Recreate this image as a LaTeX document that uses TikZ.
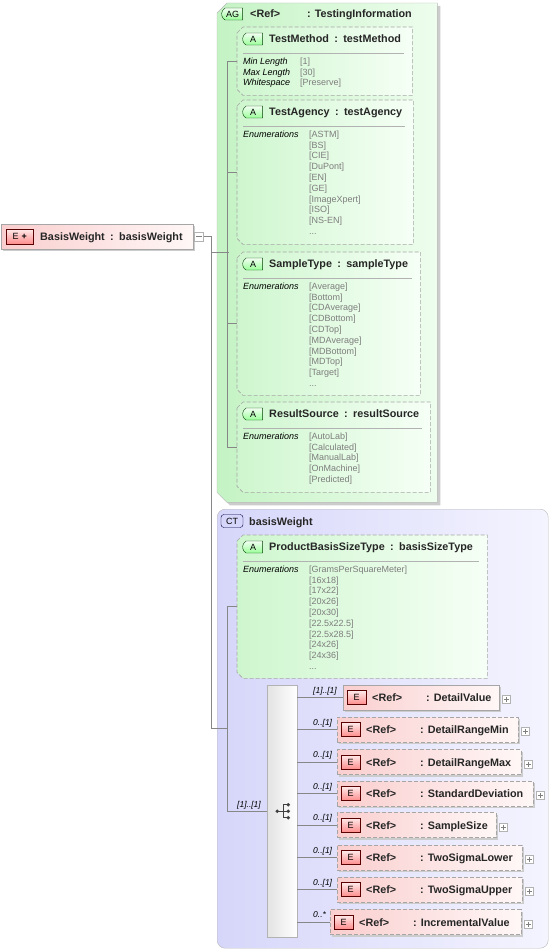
\documentclass[tikz,border=0pt]{standalone}
\usepackage{fontspec}
\setmainfont{Liberation Sans}
\usepackage{xcolor}
\usepackage{tikz}
\usetikzlibrary{positioning,shapes.misc,shadows,calc}

\definecolor{agleft}{RGB}{196,243,196}
\definecolor{agright}{RGB}{238,253,238}
\definecolor{atleft}{RGB}{206,246,206}
\definecolor{atright}{RGB}{246,255,246}
\definecolor{ctleft}{RGB}{214,214,250}
\definecolor{ctright}{RGB}{244,244,255}
\definecolor{elleft}{RGB}{250,206,206}
\definecolor{elright}{RGB}{255,247,247}
\definecolor{linegray}{RGB}{135,135,135}
\definecolor{valgray}{RGB}{125,125,125}

\begin{document}
\begin{tikzpicture}[x=1pt,y=-1pt,
  conn/.style={draw=linegray, line width=0.7pt},
  area/.style={rectangle, anchor=north west, inner sep=0pt},
  agshape/.style={draw=gray!55, left color=agleft, right color=agright,
    general shadow={fill=gray!40, shadow xshift=3pt, shadow yshift=-3pt}},
  atshape/.style={draw=gray!70, dash pattern=on 4pt off 2pt, line width=0.6pt,
    left color=atleft, right color=atright},
  ctbox/.style={rectangle, rounded corners=8pt, draw=gray!55, left color=ctleft,
    right color=ctright, anchor=north west, inner sep=0pt},
  elbox/.style={rectangle, draw=gray!70, left color=elleft, right color=elright,
    minimum height=25, anchor=west, inner sep=0pt,
    general shadow={fill=gray!40, shadow xshift=2pt, shadow yshift=-2pt}},
  optbox/.style={elbox, dash pattern=on 4pt off 2pt},
  seqbar/.style={rectangle, draw=gray!60, left color=gray!22, right color=white,
    anchor=north west, inner sep=0pt},
  eicon/.style={draw=red!35!black, top color=red!8, bottom color=red!45,
    minimum width=19, minimum height=14, inner sep=0pt, font=\fontsize{9}{9}\selectfont},
  aicon/.style={rounded rectangle, rounded rectangle right arc=none,
    rounded rectangle arc length=120, draw=green!25!black,
    top color=green!5, bottom color=green!40, minimum width=20, minimum height=12,
    inner sep=0pt, font=\fontsize{9}{9}\selectfont},
  cticon/.style={rectangle, rounded corners=3pt, draw=blue!25!black, fill=ctleft,
    minimum width=22, minimum height=13, inner sep=0pt, font=\fontsize{9}{9}\selectfont},
  nametext/.style={font=\fontsize{10.8}{12}\selectfont\bfseries, text=black!85,
    anchor=base west, inner sep=0pt},
  keyt/.style={font=\fontsize{9}{10.8}\selectfont\itshape, anchor=north west,
    align=left, inner sep=0pt},
  valt/.style={font=\fontsize{9}{10.8}\selectfont, text=valgray, anchor=north west,
    align=left, inner sep=0pt},
  mult/.style={font=\fontsize{8.5}{9}\selectfont\itshape, anchor=base west, inner sep=0pt},
  sepline/.style={draw=gray!60, line width=0.7pt},
  seqline/.style={draw=black!75, line width=0.9pt},
  plusbox/.style={draw=gray!60, fill=white, minimum size=8, inner sep=0pt,
    path picture={\draw[gray] ([xshift=1.5pt]path picture bounding box.west)
      -- ([xshift=-1.5pt]path picture bounding box.east)
      ([yshift=-1.5pt]path picture bounding box.north)
      -- ([yshift=1.5pt]path picture bounding box.south);}},
  minusbox/.style={draw=gray!60, fill=white, minimum size=9, inner sep=0pt,
    path picture={\draw[gray] ([xshift=1.5pt]path picture bounding box.west)
      -- ([xshift=-1.5pt]path picture bounding box.east);}}
]
\useasboundingbox (0,0) rectangle (551,952);

% Root element
\node[elbox, minimum width=192] (root) at (1,236.5) {};
\node[eicon, minimum width=27, minimum height=15, right=5pt of root.west] (rootE) {E\hspace{3pt}{\bfseries+}};
\node[nametext] (rootT) at (40,240.5) {BasisWeight\enskip:\enskip basisWeight};
\node[minusbox, right=1pt of root] (rootM) {};

% Attribute group (chamfered)
\node[area, minimum width=220, minimum height=499] (ag) at (217,3) {};
\path[agshape] ($(ag.north west)+(0,10)$) -- ($(ag.north west)+(10,0)$) -- (ag.north east)
  -- (ag.south east) -- ($(ag.south west)+(10,0)$) -- ($(ag.south west)+(0,-10)$) -- cycle;

% Complex type
\node[ctbox, minimum width=331, minimum height=439] (ct) at (217,509) {};

% Attribute boxes (chamfered, dashed)
\node[area, minimum width=175, minimum height=68] (tm) at (237,27) {};
\node[area, minimum width=176, minimum height=144] (ta) at (237,100) {};
\node[area, minimum width=183, minimum height=143] (st) at (237,252) {};
\node[area, minimum width=193, minimum height=90] (rs) at (237,402) {};
\node[area, minimum width=250, minimum height=143] (pb) at (237,535) {};
\foreach \b in {tm,ta,st,rs,pb}
  \path[atshape] ($(\b.north west)+(0,6)$) -- ($(\b.north west)+(6,0)$) -- (\b.north east)
    -- (\b.south east) -- ($(\b.south west)+(6,0)$) -- ($(\b.south west)+(0,-6)$) -- cycle;

% Group header
\node[aicon, minimum width=21] (agI) at (232.5,14) {AG};
\node[nametext] (agR) at (250,17.5) {<Ref>};
\node[nametext] (agT) at (307,17.5) {: TestingInformation};

% TestMethod
\node[aicon] (tmI) at (253,39) {A};
\node[nametext] (tmT) at (269,42.5) {TestMethod\enskip:\enskip testMethod};
\draw[sepline] (243,53) -- (404,53);
\node[keyt] (tmK) at (243,57.5) {Min Length\\Max Length\\Whitespace};
\node[valt] (tmV) at (300,57.5) {[1]\\{}[30]\\{}[Preserve]};

% TestAgency
\node[aicon] (taI) at (253,112) {A};
\node[nametext] (taT) at (269,115.5) {TestAgency\enskip:\enskip testAgency};
\draw[sepline] (243,126) -- (405,126);
\node[keyt] (taK) at (243,130.5) {Enumerations};
\node[valt] (taV) at (309,130.5) {[ASTM]\\{}[BS]\\{}[CIE]\\{}[DuPont]\\{}[EN]\\{}[GE]\\{}[ImageXpert]\\{}[ISO]\\{}[NS-EN]\\{}...};

% SampleType
\node[aicon] (stI) at (253,264) {A};
\node[nametext] (stT) at (269,267.5) {SampleType\enskip:\enskip sampleType};
\draw[sepline] (243,278) -- (412,278);
\node[keyt] (stK) at (243,282.5) {Enumerations};
\node[valt] (stV) at (309,282.5) {[Average]\\{}[Bottom]\\{}[CDAverage]\\{}[CDBottom]\\{}[CDTop]\\{}[MDAverage]\\{}[MDBottom]\\{}[MDTop]\\{}[Target]\\{}...};

% ResultSource
\node[aicon] (rsI) at (253,414) {A};
\node[nametext] (rsT) at (269,417.5) {ResultSource\enskip:\enskip resultSource};
\draw[sepline] (243,428) -- (422,428);
\node[keyt] (rsK) at (243,432.5) {Enumerations};
\node[valt] (rsV) at (309,432.5) {[AutoLab]\\{}[Calculated]\\{}[ManualLab]\\{}[OnMachine]\\{}[Predicted]};

% Complex type header
\node[cticon] (ctI) at (232,521) {CT};
\node[nametext] (ctT) at (249,525.5) {basisWeight};

% ProductBasisSizeType
\node[aicon] (pbI) at (253,547) {A};
\node[nametext] (pbT) at (269,550.5) {ProductBasisSizeType\enskip:\enskip basisSizeType};
\draw[sepline] (243,561) -- (479,561);
\node[keyt] (pbK) at (243,565.5) {Enumerations};
\node[valt] (pbV) at (309,565.5) {[GramsPerSquareMeter]\\{}[16x18]\\{}[17x22]\\{}[20x26]\\{}[20x30]\\{}[22.5x22.5]\\{}[22.5x28.5]\\{}[24x26]\\{}[24x36]\\{}...};

% Sequence
\node[seqbar, minimum width=30, minimum height=252] (seq) at (267,685) {};
\draw[seqline] ($(seq.center)+(-5,0)$) -- ($(seq.center)+(6,0)$);
\draw[seqline] ($(seq.center)+(6,-6.5)$) -- ($(seq.center)+(1,-6.5)$) -- ($(seq.center)+(1,6.5)$) -- ($(seq.center)+(6,6.5)$);
\fill[black!75] ($(seq.center)+(-5,0)$) circle (1.9pt);
\foreach \d in {-6.5,0,6.5}
  \fill[black!75] ($(seq.center)+(6,\d)$) circle (1.9pt);

% Child elements
\foreach \n/\x/\w/\y/\s/\m/\t in {
  dv/343/156/697.5/elbox/{[1]..[1]}/DetailValue,
  dmin/337/181/729.5/optbox/{0..[1]}/DetailRangeMin,
  dmax/337/184/762/optbox/{0..[1]}/DetailRangeMax,
  sd/337/196/793.5/optbox/{0..[1]}/StandardDeviation,
  ss/337/159/825/optbox/{0..[1]}/SampleSize,
  tsl/337/185/857.5/optbox/{0..[1]}/TwoSigmaLower,
  tsu/337/185/889.5/optbox/{0..[1]}/TwoSigmaUpper,
  iv/330/191/922/optbox/{0..*}/IncrementalValue}
{
  \node[\s, minimum width=\w] (\n) at (\x,\y) {};
  \node[eicon, right=4pt of \n.west] (e\n) {E};
  \node[nametext] (r\n) at ($(\n.west)+(29,4)$) {<Ref>};
  \node[nametext] (t\n) at ($(\n.west)+(83,4)$) {: \t};
  \node[plusbox, right=3pt of \n.east, yshift=-2pt] (p\n) {};
  \node[mult] (m\n) at (313,\y-4.5) {\m};
  \draw[conn] (seq.east |- \n.west) -- (\n.west);
}

% Connectors
\draw[conn] (rootM.east) -- ++(8,0) coordinate (rj) |- (ct.west) -- ++(10,0);
\draw[conn] (rj |- ag.west) -- ++(17,0);
\draw[conn] (tm.west) -- ++(-10,0) |- (rs.west);
\draw[conn] (ta.west) -- ++(-10,0);
\draw[conn] (st.west) -- ++(-10,0);
\draw[conn] (pb.west) -- ++(-10,0) |- (seq.west);
\node[mult] (seqM) at (237,807) {[1]..[1]};

\end{tikzpicture}
\end{document}
